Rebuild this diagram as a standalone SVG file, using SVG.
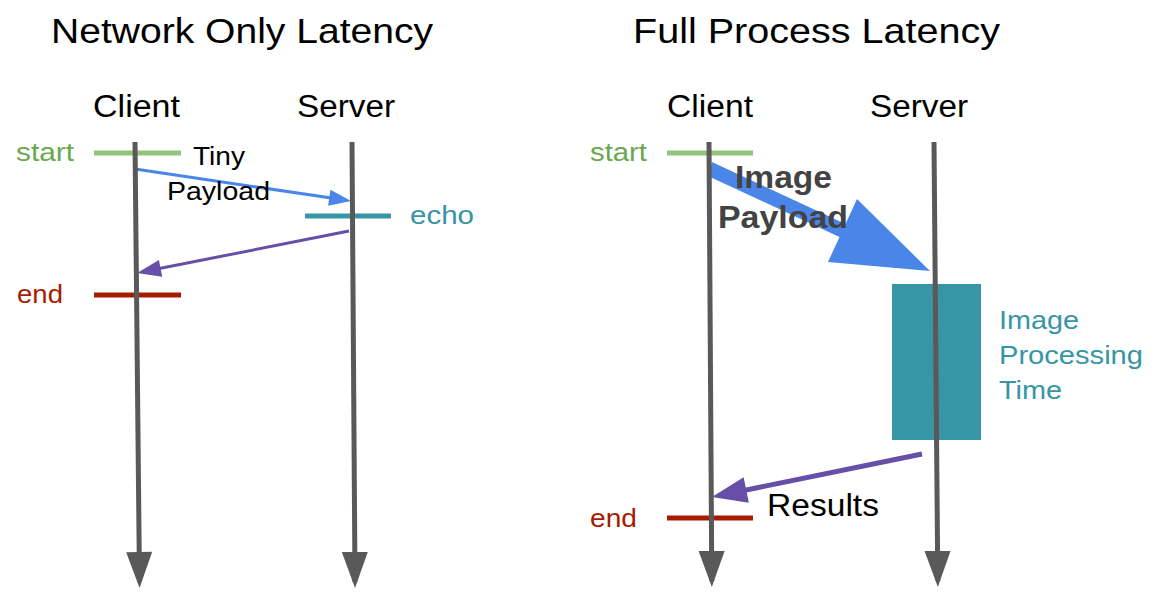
<svg xmlns="http://www.w3.org/2000/svg" width="1162" height="594" viewBox="0 0 1162 594">
<style>
text{font-family:"Liberation Sans",Arial,sans-serif;}
.title{font-size:35px;fill:#000;}
.head{font-size:31px;fill:#000;}
.lbl{font-size:26px;}
.green{fill:#6aa84f;}
.red{fill:#a61c00;}
.teal{fill:#3795a5;}
.blk{fill:#000;}
.bold{font-size:31px;font-weight:bold;fill:#434343;}
.life{stroke:#595959;stroke-width:5;fill:none;marker-end:url(#down);}
.mk{stroke-width:5;}
</style>
<defs>
<marker id="down" markerUnits="userSpaceOnUse" markerWidth="36" markerHeight="26" refX="30" refY="13" orient="auto" overflow="visible"><path d="M0,0 L36,13 L0,26 z" fill="#595959"/></marker>
<marker id="blueHead" markerUnits="userSpaceOnUse" markerWidth="22" markerHeight="16" refX="16" refY="8" orient="auto" overflow="visible"><path d="M0,0 L22,8 L0,16 z" fill="#4a86e8"/></marker>
<marker id="purpHead" markerUnits="userSpaceOnUse" markerWidth="24" markerHeight="17" refX="18" refY="8.5" orient="auto" overflow="visible"><path d="M0,0 L24,8.5 L0,17 z" fill="#674ea7"/></marker>
<marker id="purpBig" markerUnits="userSpaceOnUse" markerWidth="35" markerHeight="26" refX="27" refY="13" orient="auto" overflow="visible"><path d="M0,0 L35,13 L0,26 z" fill="#674ea7"/></marker>
</defs>
<rect width="1162" height="594" fill="#fff"/>

<g id="titles">
<text class="title" x="51" y="43" textLength="382" lengthAdjust="spacingAndGlyphs">Network Only Latency</text>
<text class="title" x="633" y="43" textLength="367" lengthAdjust="spacingAndGlyphs">Full Process Latency</text>
</g>

<g id="left-markers">
<line class="mk" x1="94" y1="153" x2="181" y2="153" stroke="#93c47d"/>
<line class="mk" x1="94" y1="295" x2="181" y2="295" stroke="#a61c00"/>
<line class="mk" x1="305" y1="216" x2="391" y2="216" stroke="#3795a5"/>
</g>
<g id="right-markers">
<line class="mk" x1="667" y1="153" x2="753" y2="153" stroke="#93c47d"/>
<line class="mk" x1="667" y1="518" x2="753" y2="518" stroke="#a61c00"/>
<rect id="processing" x="892" y="284" width="89" height="156" fill="#3795a5"/>
</g>

<g id="connectors">
<line x1="135" y1="169" x2="345.1" y2="200.1" stroke="#4a86e8" stroke-width="3" marker-end="url(#blueHead)"/>
<line x1="349" y1="231" x2="142.9" y2="271.8" stroke="#674ea7" stroke-width="3" marker-end="url(#purpHead)"/>
<polygon id="image-payload-arrow" points="712,162 845.5,224 857,199 930,271 828,262 839.5,237 708,176" fill="#4a86e8"/>
<line x1="922" y1="454" x2="719.8" y2="495.4" stroke="#674ea7" stroke-width="5" marker-end="url(#purpBig)"/>
</g>

<g id="lifelines">
<line id="left-client-life" class="life" x1="135" y1="142" x2="139.5" y2="582"/>
<line id="left-server-life" class="life" x1="352" y1="142" x2="355" y2="582"/>
<line id="right-client-life" class="life" x1="709" y1="142" x2="711.8" y2="581"/>
<line id="right-server-life" class="life" x1="934" y1="142" x2="937.8" y2="581"/>
</g>

<g id="left-client">
<text class="head" x="93" y="117" textLength="87" lengthAdjust="spacingAndGlyphs">Client</text>
<text class="lbl green" x="16" y="161" textLength="58" lengthAdjust="spacingAndGlyphs">start</text>
<text class="lbl red" x="17" y="303" textLength="46" lengthAdjust="spacingAndGlyphs">end</text>
</g>
<g id="left-server">
<text class="head" x="297" y="117" textLength="98" lengthAdjust="spacingAndGlyphs">Server</text>
<text class="lbl teal" x="410" y="224" textLength="64" lengthAdjust="spacingAndGlyphs">echo</text>
</g>
<g id="tiny-payload-label">
<text class="lbl blk" x="193" y="165" textLength="52" lengthAdjust="spacingAndGlyphs">Tiny</text>
<text class="lbl blk" x="167" y="200" textLength="103" lengthAdjust="spacingAndGlyphs">Payload</text>
</g>

<g id="right-client">
<text class="head" x="667" y="117" textLength="86" lengthAdjust="spacingAndGlyphs">Client</text>
<text class="lbl green" x="590" y="161" textLength="57" lengthAdjust="spacingAndGlyphs">start</text>
<text class="lbl red" x="590" y="527" textLength="47" lengthAdjust="spacingAndGlyphs">end</text>
</g>
<g id="right-server">
<text class="head" x="870" y="117" textLength="98" lengthAdjust="spacingAndGlyphs">Server</text>
</g>
<g id="image-payload-label">
<text class="bold" x="735" y="188" textLength="97" lengthAdjust="spacingAndGlyphs">Image</text>
<text class="bold" x="718" y="228" textLength="130" lengthAdjust="spacingAndGlyphs">Payload</text>
</g>
<g id="processing-label">
<text class="lbl teal" x="999" y="329" textLength="80" lengthAdjust="spacingAndGlyphs">Image</text>
<text class="lbl teal" x="999" y="364" textLength="144" lengthAdjust="spacingAndGlyphs">Processing</text>
<text class="lbl teal" x="999" y="399" textLength="63" lengthAdjust="spacingAndGlyphs">Time</text>
</g>
<g id="results-label">
<text class="head" x="767" y="516" textLength="112" lengthAdjust="spacingAndGlyphs">Results</text>
</g>
</svg>
